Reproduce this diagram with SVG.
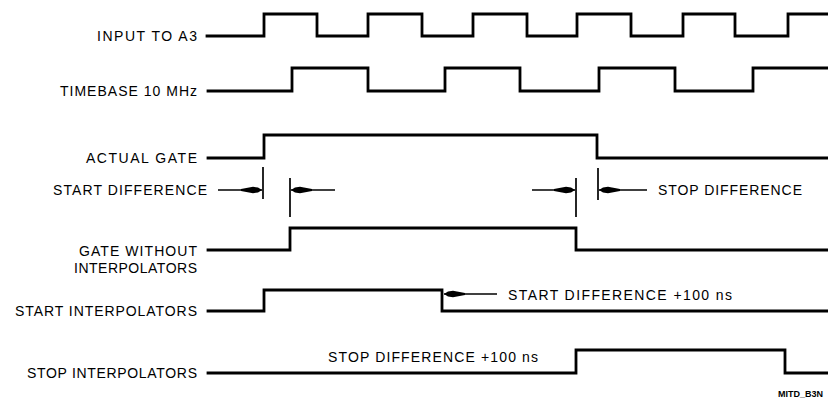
<svg xmlns="http://www.w3.org/2000/svg" width="828" height="400" viewBox="0 0 828 400">
  <defs>
    <style>
      .sig { fill: none; stroke: #000; stroke-width: 2.8; stroke-linejoin: miter; stroke-linecap: square; }
      .lbl { font-family: "Liberation Sans", Arial, sans-serif; font-size: 14px; fill: #000; }
      .end { text-anchor: end; }
      .dim { fill: none; stroke: #000; stroke-width: 1.3; }
      .tick { fill: none; stroke: #000; stroke-width: 1.7; }
      .code { font-family: "Liberation Sans", Arial, sans-serif; font-size: 9px; font-weight: bold; fill: #000; }
    </style>
    <marker id="ah" markerUnits="userSpaceOnUse" viewBox="-22 -4 23 8" refX="0" refY="0" markerWidth="23" markerHeight="8" orient="auto">
      <path d="M0,0 L-4,-2.6 L-9,-3.2 L-21,-1 L-21,1 L-9,3.2 L-4,2.6 Z" fill="#000"/>
    </marker>
  </defs>
  <rect width="828" height="400" fill="#fff"/>

  <g id="input-a3">
    <text class="lbl end" x="197" y="41" textLength="100" lengthAdjust="spacing">INPUT TO A3</text>
    <path class="sig" d="M207,36 H264 V14 H317 V36 H368 V14 H422 V36 H473 V14 H527 V36 H577 V14 H631 V36 H683 V14 H735 V36 H788 V14 H830"/>
  </g>

  <g id="timebase">
    <text class="lbl end" x="197" y="96" textLength="137" lengthAdjust="spacing">TIMEBASE 10 MHz</text>
    <path class="sig" d="M208,91 H292 V68 H368 V91 H445 V68 H520 V91 H599 V68 H675 V91 H753 V68 H830"/>
  </g>

  <g id="actual-gate">
    <text class="lbl end" x="197" y="163" textLength="111" lengthAdjust="spacing">ACTUAL GATE</text>
    <path class="sig" d="M208,158 H264 V135 H597 V158 H830"/>
  </g>

  <g id="start-difference">
    <text class="lbl end" x="207" y="195" textLength="154" lengthAdjust="spacing">START DIFFERENCE</text>
    <line class="tick" x1="263" y1="167" x2="263" y2="199"/>
    <line class="tick" x1="290" y1="178" x2="290" y2="217"/>
  </g>

  <g id="stop-difference">
    <text class="lbl" x="658" y="195" textLength="144" lengthAdjust="spacing">STOP DIFFERENCE</text>
    <line class="tick" x1="576" y1="178" x2="576" y2="217"/>
    <line class="tick" x1="598" y1="168" x2="598" y2="200"/>
  </g>

  <g id="gate-without-interpolators">
    <text class="lbl end" x="197" y="256" textLength="118" lengthAdjust="spacing">GATE WITHOUT</text>
    <text class="lbl end" x="197" y="273" textLength="123" lengthAdjust="spacing">INTERPOLATORS</text>
    <path class="sig" d="M208,250 H290 V228 H576 V250 H830"/>
  </g>

  <g id="start-interpolators">
    <text class="lbl end" x="197" y="316" textLength="182" lengthAdjust="spacing">START INTERPOLATORS</text>
    <path class="sig" d="M208,311 H264 V290 H442 V311 H830"/>
    <text class="lbl" x="508" y="300" textLength="224" lengthAdjust="spacing">START DIFFERENCE +100 ns</text>
  </g>

  <g id="stop-interpolators">
    <text class="lbl end" x="197" y="378" textLength="170" lengthAdjust="spacing">STOP INTERPOLATORS</text>
    <path class="sig" d="M208,373 H576 V350 H785 V373 H830"/>
    <text class="lbl" x="328" y="362" textLength="210" lengthAdjust="spacing">STOP DIFFERENCE +100 ns</text>
  </g>

  <g id="connectors">
    <line class="dim" x1="218" y1="190" x2="262" y2="190" marker-end="url(#ah)"/>
    <line class="dim" x1="335" y1="190" x2="291" y2="190" marker-end="url(#ah)"/>
    <line class="dim" x1="532" y1="190" x2="575" y2="190" marker-end="url(#ah)"/>
    <line class="dim" x1="647" y1="190" x2="599" y2="190" marker-end="url(#ah)"/>
    <line class="dim" x1="497" y1="294" x2="444" y2="294" marker-end="url(#ah)"/>
  </g>

  <text class="code" x="778" y="397">MITD_B3N</text>
</svg>
